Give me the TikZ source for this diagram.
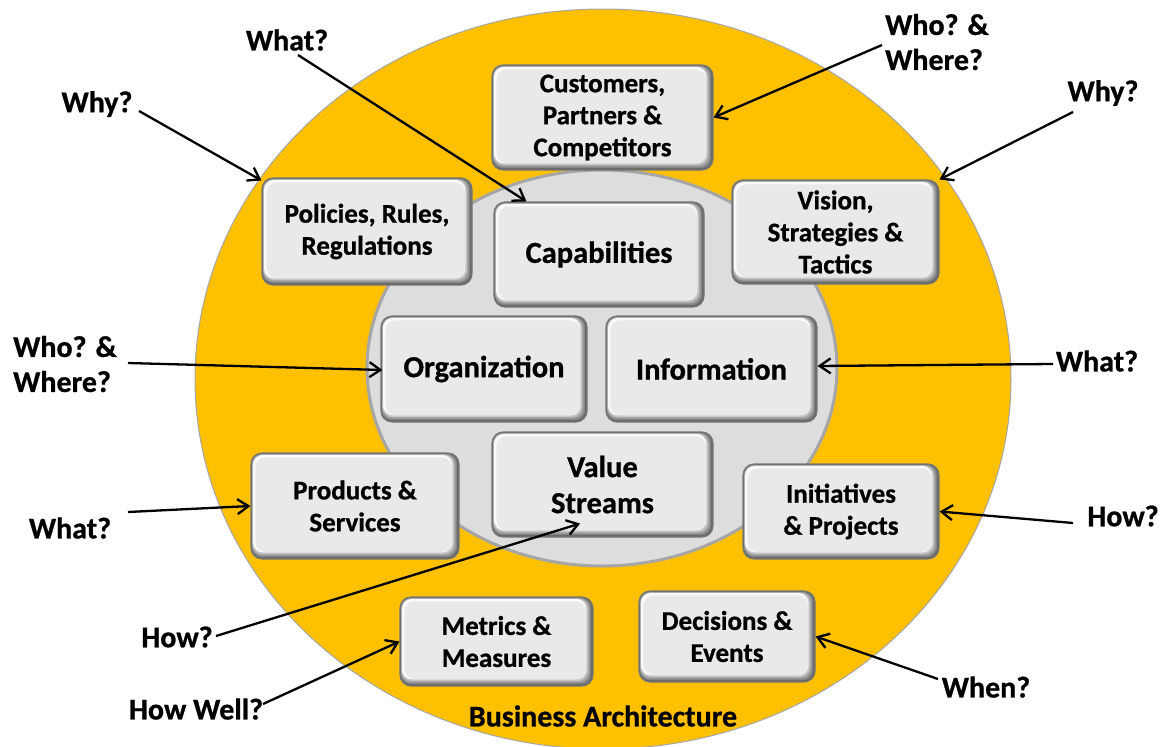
\documentclass[tikz,border=0pt]{standalone}
\usepackage{fontspec}
\setmainfont{Carlito}[BoldFeatures={FakeBold=0.8}]
\usetikzlibrary{arrows.meta,calc}
\definecolor{gold}{HTML}{FFC000}
\definecolor{ringedge}{HTML}{A6A6A6}
\definecolor{innerfill}{HTML}{DDDDDD}
\definecolor{boxfill}{HTML}{E9E9E9}
\definecolor{boxedge}{HTML}{777777}
\definecolor{shA}{HTML}{666666}
\definecolor{shB}{HTML}{858585}
\definecolor{shC}{HTML}{A5A5A5}
\definecolor{shD}{HTML}{C6C6C6}
\definecolor{hilite}{HTML}{FAFAFA}
\newcommand\fsmallbox{\fontsize{27}{32}\selectfont\bfseries}
\newcommand\fbigbox{\fontsize{30.5}{36}\selectfont\bfseries}
\newcommand\fquest{\fontsize{30}{35}\selectfont\bfseries}
\tikzset{
  bevelbox/.style={rounded corners=11pt, draw=boxedge, line width=1.1pt, fill=shA,
    align=center, inner sep=0pt, text=black,
    path picture={
      \foreach \c/\a/\b in {shB/0.8/1.8, shC/1.2/3.4, shD/1.6/5.0, hilite/2.0/6.6, boxfill/4.4/7.0} {
        \fill[\c, rounded corners=10pt]
          ([shift={(\a pt,-\a pt)}]path picture bounding box.north west) rectangle
          ([shift={(-\b pt,\b pt)}]path picture bounding box.south east);
      }
    }},
  smallbox/.style={bevelbox, font=\fsmallbox},
  bigbox/.style={bevelbox, font=\fbigbox},
  quest/.style={inner sep=0pt, font=\fquest, text=black},
  qarrow/.style={line width=2.3pt, draw=black, -{Straight Barb[length=11pt,width=15pt]}},
}
\begin{document}
\begin{tikzpicture}[x=1pt,y=-1pt]
\useasboundingbox (0,0) rectangle (1163,747);
% rings
\fill[white] (0,0) rectangle (1163,747);
\draw[fill=gold, draw=ringedge, line width=1pt] (603,379) ellipse [x radius=408pt, y radius=370pt];
\draw[fill=innerfill, draw=ringedge, line width=3pt] (602,368) ellipse [x radius=235pt, y radius=198pt];

% boxes
\node[smallbox, minimum width=221pt, minimum height=105pt] (cust) at (602.5,117.5) {Customers,\\Partners \&\\Competitors};
\node[smallbox, minimum width=210pt, minimum height=107pt] (pol) at (367,231.5) {Policies, Rules,\\Regulations};
\node[bigbox, minimum width=210pt, minimum height=105pt] (cap) at (599,254.5) {Capabilities};
\node[smallbox, minimum width=207pt, minimum height=104pt] (vis) at (835.5,232) {Vision,\\Strategies \&\\Tactics};
\node[bigbox, minimum width=206pt, minimum height=106pt] (org) at (484,369) {Organization};
\node[bigbox, minimum width=211pt, minimum height=106pt] (inf) at (711.5,369) {Information};
\node[bigbox, minimum width=221pt, minimum height=105pt] (val) at (602.5,484.5) {Value\\Streams};
\node[smallbox, minimum width=208pt, minimum height=106pt] (prod) at (355,506) {Products \&\\Services};
\node[smallbox, minimum width=196pt, minimum height=95pt] (init) at (841,511.5) {Initiatives\\\& Projects};
\node[smallbox, minimum width=193pt, minimum height=89pt] (met) at (496.5,641.5) {Metrics \&\\Measures};
\node[smallbox, minimum width=176pt, minimum height=91pt] (dec) at (727,636.5) {Decisions \&\\Events};

% question labels
\node[quest] (qWhatTop) at (287,40) {What?};
\node[quest] (qWhyL) at (97,104) {Why?};
\node[quest, align=left, anchor=west] (qWhoR) at (885,42) {Who? \&\\Where?};
\node[quest] (qWhyR) at (1103,93) {Why?};
\node[quest, align=left, anchor=west] (qWhoL) at (13,364) {Who? \&\\Where?};
\node[quest] (qWhatR) at (1097,361) {What?};
\node[quest] (qWhatL) at (70,528) {What?};
\node[quest] (qHowR) at (1123,516) {How?};
\node[quest] (qHowL) at (177,637) {How?};
\node[quest] (qHowWell) at (196,709) {How Well?};
\node[quest] (qWhen) at (986,687) {When?};
\node[quest] (ba) at (603,716) {Business Architecture};

% arrow start points
\coordinate (sWhatTop) at (298,55);
\coordinate (sWhyL) at (139,111);
\coordinate (sWhoR) at (882,45);
\coordinate (sWhyR) at (1073,112);
\coordinate (sWhoL) at (128,363);
\coordinate (sWhatR) at (1053,364);
\coordinate (sWhatL) at (128,512);
\coordinate (sHowR) at (1073,523);
\coordinate (sHowL) at (216,636);
\coordinate (sHowWell) at (263,704);
\coordinate (sWhen) at (938,679);

% arrows
\draw[qarrow] (sWhatTop) -- ($(cap.north west)+(33,0)$);
\draw[qarrow] (sWhyL) -- ($(pol.north west)+(0,3)$);
\draw[qarrow] (sWhoR) -- (cust.east);
\draw[qarrow] (sWhyR) -- (vis.north east);
\draw[qarrow] (sWhoL) -- ($(org.west)+(2,1)$);
\draw[qarrow] (sWhatR) -- ($(inf.east)+(0,-3)$);
\draw[qarrow] (sWhatL) -- (prod.west);
\draw[qarrow] (sHowR) -- (init.east);
\draw[qarrow] (sHowL) -- ($(val.south)+(-22.5,-14)$);
\draw[qarrow] (sHowWell) -- (met.west);
\draw[qarrow] (sWhen) -- (dec.east);
\end{tikzpicture}
\end{document}
